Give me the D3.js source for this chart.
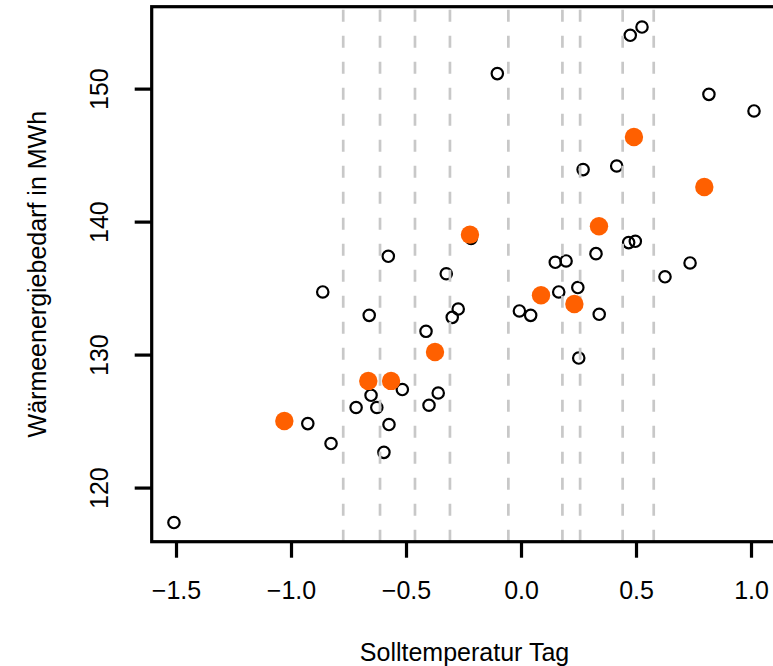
<!DOCTYPE html>
<html lang="de">
<head>
    <meta charset="UTF-8">
    <title>Wärmeenergiebedarf</title>
    <style>
        body { margin: 0; background: #fff; }
        text { font-family: "Liberation Sans", Arial, sans-serif; }
    </style>
</head>
<body>

    <svg id="svg" width="773" height="666"></svg>

    <script src="https://d3js.org/d3.v7.min.js"></script>
    <script>
        // open circles (all days)
        const tempX = [-1.509, -0.862, -0.577, -0.660, -0.325, -0.413, -0.273, -0.299, -0.103, -0.217,
            -0.007, 0.042, 0.149, 0.196, 0.164, 0.247, 0.270, 0.326, 0.340, 0.251,
            0.416, 0.468, 0.497, 0.475, 0.526, 0.626, 0.735, 0.817, 1.013, -0.927,
            -0.826, -0.717, -0.652, -0.627, -0.574, -0.596, -0.516, -0.400, -0.360]
        const demandY = [117.37, 134.71, 137.39, 132.95, 136.08, 131.75, 133.43, 132.80, 151.13, 138.74,
            133.28, 132.95, 136.94, 137.04, 134.71, 135.04, 143.91, 137.59, 133.03, 129.74,
            144.18, 138.42, 138.52, 154.01, 154.63, 135.85, 136.89, 149.57, 148.32, 124.81,
            123.31, 126.02, 126.94, 126.02, 124.74, 122.65, 127.37, 126.19, 127.11]

        // highlighted points (orange)
        const hiX = [-1.029, -0.664, -0.565, -0.374, -0.222, 0.087, 0.232, 0.339, 0.491, 0.797]
        const hiY = [125.01, 128.02, 128.02, 130.20, 139.02, 134.46, 133.80, 139.65, 146.36, 142.60]

        // dashed vertical reference lines
        const vLines = [-0.773, -0.613, -0.461, -0.309, -0.055, 0.180, 0.257, 0.442, 0.577]

        const xTicks = [-1.5, -1.0, -0.5, 0.0, 0.5, 1.0]
        const yTicks = [120, 130, 140, 150]

        const pLeft = 151.7, pRight = 777.3, pTop = 6.7, pBottom = 541.7

        const xScale = d3.scaleLinear()
            .domain([-1.6057, 1.1143])
            .range([pLeft, pRight])

        const yScale = d3.scaleLinear()
            .domain([115.93, 156.16])
            .range([pBottom, pTop])

        const svg = d3.select('#svg')

        svg.append('clipPath').attr('id', 'plotclip')
            .append('rect')
            .attr('x', pLeft).attr('y', pTop)
            .attr('width', pRight - pLeft).attr('height', pBottom - pTop)

        const plot = svg.append('g').attr('clip-path', 'url(#plotclip)')

        // open circles
        plot.selectAll('circle.open')
            .data(tempX.map((x, i) => ({x: x, y: demandY[i]})))
            .enter()
            .append('circle')
            .attr('class', 'open')
            .attr('cx', d => xScale(d.x))
            .attr('cy', d => yScale(d.y))
            .attr('r', 5.7)
            .attr('fill', 'none')
            .attr('stroke', '#000')
            .attr('stroke-width', 2.2)

        // dashed lines, drawn from the bottom up
        plot.selectAll('line.v')
            .data(vLines)
            .enter()
            .append('line')
            .attr('x1', d => xScale(d)).attr('x2', d => xScale(d))
            .attr('y1', pBottom).attr('y2', pTop)
            .attr('stroke', '#c8c8c8')
            .attr('stroke-width', 2.7)
            .attr('stroke-dasharray', '12,14')

        // orange points
        plot.selectAll('circle.hi')
            .data(hiX.map((x, i) => ({x: x, y: hiY[i]})))
            .enter()
            .append('circle')
            .attr('cx', d => xScale(d.x))
            .attr('cy', d => yScale(d.y))
            .attr('r', 9.2)
            .attr('fill', '#ff6000')

        // box
        svg.append('rect')
            .attr('x', pLeft).attr('y', pTop)
            .attr('width', pRight - pLeft).attr('height', pBottom - pTop)
            .attr('fill', 'none')
            .attr('stroke', '#000')
            .attr('stroke-width', 3.2)

        // x axis
        const xAxis = svg.append('g')
            .attr('transform', `translate(0,${pBottom})`)
            .call(d3.axisBottom(xScale)
                .tickValues(xTicks)
                .tickFormat(d3.format('.1f'))
                .tickSize(16)
                .tickPadding(24))
        xAxis.select('.domain').remove()
        xAxis.selectAll('.tick line').attr('stroke', '#000').attr('stroke-width', 3.2)
        xAxis.selectAll('.tick text')
            .attr('fill', '#000')
            .style('font-size', '25px')

        // y axis
        const yAxis = svg.append('g')
            .attr('transform', `translate(${pLeft},0)`)
            .call(d3.axisLeft(yScale)
                .tickValues(yTicks)
                .tickSize(17))
        yAxis.select('.domain').remove()
        yAxis.selectAll('.tick line').attr('stroke', '#000').attr('stroke-width', 3.2)
        yAxis.selectAll('.tick text')
            .attr('fill', '#000')
            .attr('x', null)
            .attr('text-anchor', 'middle')
            .attr('transform', 'translate(-52,0) rotate(-90)')
            .attr('dy', '0.35em')
            .style('font-size', '25px')

        // axis titles
        svg.append('text')
            .attr('x', (pLeft + pRight) / 2)
            .attr('y', 661)
            .attr('text-anchor', 'middle')
            .style('font-size', '25px')
            .text('Solltemperatur Tag')

        svg.append('text')
            .attr('transform', `translate(46,${(pTop + pBottom) / 2}) rotate(-90)`)
            .attr('text-anchor', 'middle')
            .style('font-size', '25px')
            .text('Wärmeenergiebedarf in MWh')
    </script>
</body>
</html>
